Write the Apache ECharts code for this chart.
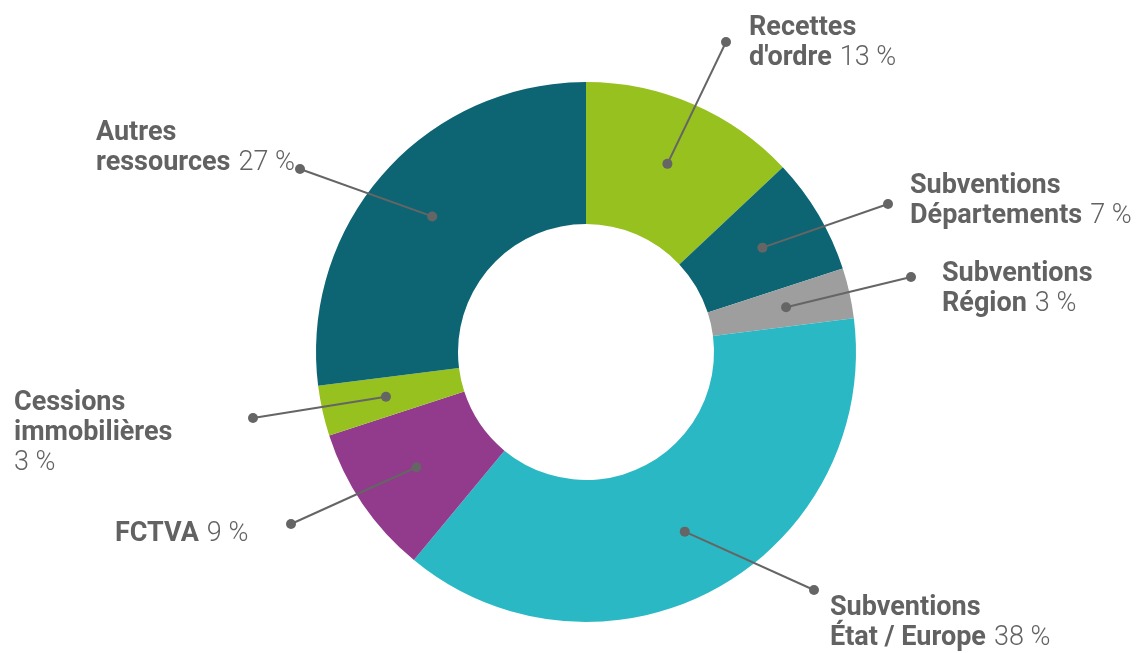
<!DOCTYPE html>
<html><head><meta charset="utf-8">
<script src="https://cdn.jsdelivr.net/npm/echarts@6/dist/echarts.min.js"></script>
<style>html,body{margin:0;padding:0;background:#fff}#c{width:1139px;height:653px}</style>
</head><body><div id="c"></div>
<script>
// ---- data ----
const categories = ["Recettes d'ordre", "Subventions Départements", "Subventions Région", "Subventions État / Europe", "FCTVA", "Cessions immobilières", "Autres ressources"];
const values = [13, 7, 3, 38, 9, 3, 27];
const labelTextLines = [["Recettes", "d'ordre"], ["Subventions", "Départements"], ["Subventions", "Région"], ["Subventions", "État / Europe"], ["FCTVA"], ["Cessions", "immobilières", ""], ["Autres", "ressources"]];

// ---- styles / layout ----
const colors = ['#96c11f', '#0d6574', '#9e9e9e', '#2bb8c5', '#923a8c', '#96c11f', '#0d6574'];
const labelAnchors = [[749, 13], [910, 171], [942, 259], [830, 593], [115, 519], [14, 388], [96, 118]];
const lineEnds = [[726, 42], [888, 204], [911, 277], [814, 590], [291, 524], [253, 418], [300, 169]];
const textColor = '#626262';
const lineColor = '#656565';

const chart = echarts.init(document.getElementById('c'));
const data = categories.map((c, i) => ({ name: c, value: values[i], itemStyle: { color: colors[i] } }));
const starts = [];

function fmt(p) {
  const i = p.dataIndex;
  const lines = labelTextLines[i];
  const pct = '{p|' + values[i] + '\u00a0%}';
  return lines.map((l, k) => {
    const last = k === lines.length - 1;
    if (!last) return '{b|' + l + '}';
    return l ? '{b|' + l + '}{s| }' + pct : pct;
  }).join('\n');
}

const option = {
  animation: false,
  series: [
    {
      type: 'pie',
      z: 1,
      center: [586, 352],
      radius: [128, 270],
      startAngle: 90,
      silent: true,
      label: { show: false },
      labelLine: { show: false },
      emphasis: { disabled: true },
      data: data
    },
    {
      type: 'pie',
      z: 5,
      center: [586, 352],
      radius: [0, 205],
      startAngle: 90,
      silent: true,
      emphasis: { disabled: true },
      itemStyle: { color: 'rgba(0,0,0,0)' },
      data: categories.map((c, i) => ({ name: c, value: values[i] })),
      label: {
        show: true,
        position: 'outside',
        formatter: fmt,
        rich: {
          b: { fontFamily: 'Roboto', fontWeight: 'bold', fontSize: 27, lineHeight: 30, color: textColor },
          s: { fontFamily: 'Roboto', fontSize: 27, lineHeight: 30, width: 8 },
          p: { fontFamily: 'Roboto', fontWeight: 300, fontSize: 27, lineHeight: 30, color: textColor }
        }
      },
      labelLine: { show: true, length: 10, length2: 10, smooth: false, lineStyle: { color: lineColor, width: 2 } },
      labelLayout: function (p) {
        const i = p.dataIndex;
        const s = p.labelLinePoints ? p.labelLinePoints[0] : lineEnds[i];
        starts[i] = s;
        return {
          x: labelAnchors[i][0], y: labelAnchors[i][1],
          align: 'left', verticalAlign: 'top',
          labelLinePoints: [s, lineEnds[i]]
        };
      }
    }
  ]
};
chart.setOption(option);

const dots = [];
starts.forEach((s, i) => {
  if (!s) return;
  dots.push({ type: 'circle', shape: { cx: s[0], cy: s[1], r: 5 }, style: { fill: lineColor }, z: 100, silent: true });
  dots.push({ type: 'circle', shape: { cx: lineEnds[i][0], cy: lineEnds[i][1], r: 5 }, style: { fill: lineColor }, z: 100, silent: true });
});
chart.setOption({ graphic: { elements: dots } });
</script>
</body></html>
